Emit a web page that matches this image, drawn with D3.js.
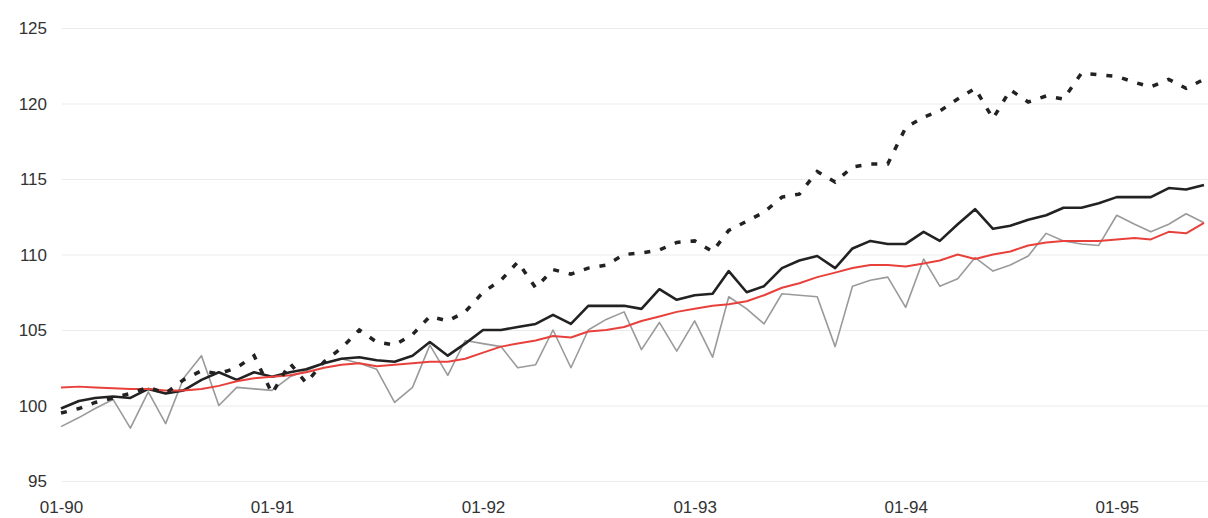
<!DOCTYPE html>
<html>
<head>
<meta charset="utf-8">
<script src="https://cdn.jsdelivr.net/npm/d3@7"></script>
<style>
  html, body { margin: 0; padding: 0; background: #fff; }
  svg { display: block; }
</style>
</head>
<body>
<svg id="chart" width="1208" height="518"></svg>
<script>
// ---- data (monthly, Jan 1990 – Jun 1995) ----
const firstMonth = new Date(1990, 0, 1);
const lastMonth = new Date(1995, 5, 1);
const months = d3.timeMonth.range(firstMonth, d3.timeMonth.offset(lastMonth, 1));

const seriesDashed = [99.5, 99.8, 100.2, 100.5, 100.8, 101.2, 100.8, 101.7, 102.3, 102.1,
  102.5, 103.3, 100.8, 102.8, 101.5, 102.9, 103.8, 105.0, 104.2, 104.0,
  104.7, 105.9, 105.6, 106.2, 107.5, 108.3, 109.5, 107.8, 109.0, 108.7,
  109.1, 109.3, 110.0, 110.1, 110.3, 110.8, 110.9, 110.2, 111.6, 112.2,
  112.8, 113.8, 114.0, 115.5, 114.8, 115.8, 116.0, 116.0, 118.4, 119.1,
  119.5, 120.3, 121.0, 119.0, 120.9, 120.1, 120.5, 120.3, 122.0, 121.9,
  121.8, 121.4, 121.1, 121.6, 121.0, 121.6];

const seriesBlack = [99.8, 100.3, 100.5, 100.6, 100.5, 101.1, 100.8, 101.0, 101.7, 102.2,
  101.7, 102.2, 101.9, 102.2, 102.4, 102.8, 103.1, 103.2, 103.0, 102.9,
  103.3, 104.2, 103.3, 104.1, 105.0, 105.0, 105.2, 105.4, 106.0, 105.4,
  106.6, 106.6, 106.6, 106.4, 107.7, 107.0, 107.3, 107.4, 108.9, 107.5,
  107.9, 109.1, 109.6, 109.9, 109.1, 110.4, 110.9, 110.7, 110.7, 111.5,
  110.9, 112.0, 113.0, 111.7, 111.9, 112.3, 112.6, 113.1, 113.1, 113.4,
  113.8, 113.8, 113.8, 114.4, 114.3, 114.6];

const seriesGray = [98.6, 99.2, 99.8, 100.4, 98.5, 100.9, 98.8, 101.8, 103.3, 100.0,
  101.2, 101.1, 101.0, 101.9, 102.3, 102.8, 103.1, 102.8, 102.4, 100.2,
  101.2, 104.0, 102.0, 104.3, 104.1, 103.9, 102.5, 102.7, 105.0, 102.5,
  105.0, 105.7, 106.2, 103.7, 105.5, 103.6, 105.6, 103.2, 107.2, 106.4,
  105.4, 107.4, 107.3, 107.2, 103.9, 107.9, 108.3, 108.5, 106.5, 109.7,
  107.9, 108.4, 109.8, 108.9, 109.3, 109.9, 111.4, 110.9, 110.7, 110.6,
  112.6, 112.0, 111.5, 112.0, 112.7, 112.1];

const seriesRed = [101.2, 101.25, 101.2, 101.15, 101.1, 101.1, 101.0, 101.0, 101.1, 101.3,
  101.6, 101.8, 101.9, 102.0, 102.2, 102.5, 102.7, 102.8, 102.6, 102.7,
  102.8, 102.9, 102.9, 103.1, 103.5, 103.9, 104.1, 104.3, 104.6, 104.5,
  104.9, 105.0, 105.2, 105.6, 105.9, 106.2, 106.4, 106.6, 106.7, 106.9,
  107.3, 107.8, 108.1, 108.5, 108.8, 109.1, 109.3, 109.3, 109.2, 109.4,
  109.6, 110.0, 109.7, 110.0, 110.2, 110.6, 110.8, 110.9, 110.9, 110.9,
  111.0, 111.1, 111.0, 111.5, 111.4, 112.1];

const yTicks = [95, 100, 105, 110, 115, 120, 125];
const xTickDates = [new Date(1990,0,1), new Date(1991,0,1), new Date(1992,0,1),
                    new Date(1993,0,1), new Date(1994,0,1), new Date(1995,0,1)];
const xTickLabels = ["01-90", "01-91", "01-92", "01-93", "01-94", "01-95"];

// ---- chart ----
const svg = d3.select("#chart");
const x = d3.scaleTime().domain([firstMonth, lastMonth]).range([61, 1204]);
const y = d3.scaleLinear().domain([95, 125]).range([481, 28]);

// grid
svg.append("g")
  .attr("transform", "translate(62,0)")
  .call(d3.axisLeft(y).tickValues(yTicks).tickSize(-1146).tickFormat(""))
  .call(g => g.select(".domain").remove())
  .call(g => g.selectAll("line").attr("stroke", "#ebebeb").attr("stroke-width", 1));

// y labels
svg.append("g")
  .attr("transform", "translate(47,0)")
  .call(d3.axisLeft(y).tickValues(yTicks).tickSize(0).tickPadding(0))
  .call(g => g.select(".domain").remove())
  .call(g => g.selectAll("text")
    .attr("fill", "#333")
    .attr("font-family", "Liberation Sans, Arial, sans-serif")
    .attr("font-size", 17)
    .attr("dy", "0.35em"));

// x labels
svg.append("g")
  .attr("transform", "translate(0,501)")
  .call(d3.axisBottom(x).tickValues(xTickDates).tickSize(0).tickPadding(0)
    .tickFormat((d, i) => xTickLabels[i]))
  .call(g => g.select(".domain").remove())
  .call(g => g.selectAll("text")
    .attr("fill", "#333")
    .attr("font-family", "Liberation Sans, Arial, sans-serif")
    .attr("font-size", 17)
    .attr("dy", "0.71em"));

const line = d3.line().x((d, i) => x(months[i])).y(d => y(d));

svg.append("path").datum(seriesGray)
  .attr("d", line).attr("fill", "none")
  .attr("stroke", "#9a9a9a").attr("stroke-width", 1.6).attr("stroke-linejoin", "round");

svg.append("path").datum(seriesBlack)
  .attr("d", line).attr("fill", "none")
  .attr("stroke", "#222").attr("stroke-width", 2.6).attr("stroke-linejoin", "round");

svg.append("path").datum(seriesRed)
  .attr("d", line).attr("fill", "none")
  .attr("stroke", "#e8413c").attr("stroke-width", 2).attr("stroke-linejoin", "round");

svg.append("path").datum(seriesDashed)
  .attr("d", line).attr("fill", "none")
  .attr("stroke", "#222").attr("stroke-width", 3.5)
  .attr("stroke-dasharray", "6,10");
</script>
</body>
</html>
